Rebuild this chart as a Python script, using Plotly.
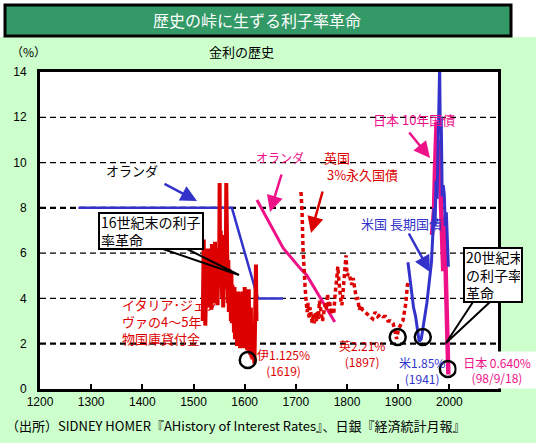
import plotly.graph_objects as go

# ---- data ----
x_ticks = [1200, 1300, 1400, 1500, 1600, 1700, 1800, 1900, 2000]
y_ticks = [0, 2, 4, 6, 8, 10, 12, 14]
grid_levels = [2, 4, 6, 8, 10, 12]

# Netherlands (blue, early)
dutch_years = [1275, 1575, 1620, 1626, 1675]
dutch_rates = [8.0, 8.0, 4.45, 4.0, 4.0]

# Italy / Genoa 4-5 year loans (yearly, 1518-1623)
italy_years = list(range(1518, 1624))
italy_rates = [3.0, 4.5, 6.6, 3.0, 5.2, 2.8, 4.6, 3.6, 5.8, 3.9,
               6.2, 4.0, 5.5, 3.6, 6.0, 4.2, 5.2, 3.5, 6.4, 4.4,
               5.0, 3.8, 6.0, 4.1, 6.5, 3.9, 5.6, 4.4, 6.2, 3.7,
               5.3, 4.6, 4.6, 9.1, 5.0, 7.0, 4.3, 6.3, 4.0, 5.8,
               3.6, 6.0, 4.4, 6.8, 4.6, 4.8, 9.1, 4.2, 6.6, 3.8,
               5.7, 3.4, 5.3, 3.9, 4.9, 3.0, 5.2, 2.9, 4.6, 3.3,
               4.2, 2.5, 4.5, 2.2, 3.8, 2.6, 4.1, 1.9, 3.5, 2.4,
               4.3, 2.0, 3.6, 1.8, 3.9, 2.5, 3.2, 1.9, 4.3, 2.3,
               3.7, 1.8, 4.5, 2.6, 3.8, 2.0, 3.4, 1.7, 3.0, 2.2,
               4.4, 1.6, 2.8, 1.5, 3.6, 1.4, 2.5, 1.3, 2.0, 1.4,
               1.6, 1.125, 2.5, 4.0, 5.5, 3.0]

# Netherlands (pink)
holland_years = [1624, 1675, 1708, 1721, 1776]
holland_rates = [8.35, 6.23, 5.34, 5.04, 2.96]

# UK 3% consols
uk_years = [1710, 1712, 1714, 1716, 1718, 1720, 1722, 1724, 1726, 1728, 1730, 1732,
            1734, 1736, 1738, 1740, 1742, 1744, 1746, 1748, 1750, 1752, 1754, 1756,
            1758, 1760, 1762, 1764, 1766, 1768, 1770, 1772, 1774, 1776, 1778, 1780,
            1782, 1784, 1786, 1788, 1790, 1792, 1794, 1796, 1798, 1800, 1803, 1806,
            1809, 1812, 1815, 1818, 1821, 1824, 1827, 1830, 1835, 1840, 1845, 1850,
            1855, 1860, 1865, 1870, 1875, 1880, 1885, 1890, 1893, 1897, 1900, 1903,
            1906, 1909, 1912, 1915, 1918, 1920]
uk_rates = [8.7, 7.9, 6.2, 5.0, 4.5, 3.9, 3.4, 3.8, 3.1, 3.6, 3.0, 2.9,
            3.3, 2.9, 3.4, 3.0, 3.4, 3.1, 3.9, 3.5, 3.2, 3.0, 3.3, 3.6,
            3.8, 3.5, 4.2, 3.6, 3.9, 3.3, 3.6, 3.4, 3.3, 4.0, 4.6, 5.0,
            5.4, 4.8, 4.1, 3.9, 3.7, 4.4, 4.6, 5.6, 5.9, 5.0, 5.1, 4.9,
            4.6, 4.9, 4.5, 4.0, 4.0, 3.5, 3.7, 3.5, 3.4, 3.3, 3.2, 3.1,
            3.4, 3.2, 3.3, 3.2, 3.2, 3.0, 3.0, 2.9, 2.6, 2.21, 2.6, 2.8,
            2.9, 3.0, 3.4, 3.8, 4.6, 4.7]

# US long-term bonds
us_years = [1919, 1922, 1926, 1930, 1934, 1938, 1941, 1945, 1948, 1952, 1956, 1959,
            1962, 1965, 1968, 1970, 1972, 1974, 1976, 1978, 1980, 1981, 1982, 1984,
            1986, 1988, 1990, 1992, 1994, 1996, 1998]
us_rates = [5.6, 5.0, 4.2, 3.6, 3.2, 2.6, 2.1, 2.2, 2.6, 3.1, 3.8, 4.4,
            5.0, 5.6, 7.0, 8.0, 7.2, 9.2, 8.4, 10.5, 12.5, 14.3, 11.8, 12.0,
            8.5, 9.0, 8.6, 7.2, 7.8, 6.4, 5.4]

# Japan 10-year bonds
japan_years = [1966, 1968, 1970, 1972, 1974, 1975, 1977, 1979, 1980, 1982, 1984, 1986,
               1988, 1990, 1991, 1993, 1995, 1996, 1997, 1998]
japan_rates = [6.8, 7.4, 7.9, 9.8, 11.0, 11.8, 9.0, 10.5, 11.0, 9.2, 8.0, 6.2,
               5.2, 7.6, 6.8, 4.8, 3.4, 3.0, 2.0, 0.64]

# circled lows
low_years = [1606, 1899, 1948, 1997]
low_rates = [1.28, 2.3, 2.3, 0.88]

# ---- colours / fonts ----
RED = '#DD0000'
BLUE = '#3333CC'
PINK = '#EE1188'
JP = 'Noto Sans CJK JP'
NUM = 'Liberation Sans'

# plot area in pixels, used to place the decorations
L, R, T, B = 40, 498, 72, 389
X_RANGE = [1200, 2095]


def yr(px):
    return X_RANGE[0] + (px - L) * (X_RANGE[1] - X_RANGE[0]) / (R - L)


def val(py):
    return (B - py) * 14 / (B - T)


def pxp(px):
    return (px - L) / (R - L)


def pyp(py):
    return (B - py) / (B - T)


fig = go.Figure()

# label that sits behind the Italian data
fig.add_trace(go.Scatter(
    x=[yr(122)], y=[val(324)], mode='text',
    text=['イタリア･ジェノ<br>ヴァの4～5年<br>物国庫貸付金'],
    textposition='middle right',
    textfont=dict(family=JP, size=13, color=RED), hoverinfo='skip'))

fig.add_trace(go.Scatter(x=dutch_years, y=dutch_rates, mode='lines',
                         line=dict(color=BLUE, width=2.5)))
fig.add_trace(go.Scatter(x=italy_years, y=italy_rates, mode='lines',
                         line=dict(color=RED, width=4)))
fig.add_trace(go.Scatter(x=holland_years, y=holland_rates, mode='lines',
                         line=dict(color=PINK, width=3)))
fig.add_trace(go.Scatter(x=uk_years, y=uk_rates, mode='lines',
                         line=dict(color=RED, width=3.5, dash='4px,3px')))
fig.add_trace(go.Scatter(x=japan_years, y=japan_rates, mode='lines',
                         line=dict(color=PINK, width=4.5)))
fig.add_trace(go.Scatter(x=us_years, y=us_rates, mode='lines',
                         line=dict(color=BLUE, width=3)))
fig.add_trace(go.Scatter(x=low_years, y=low_rates, mode='markers',
                         marker=dict(symbol='circle-open', size=16, color='black',
                                     line=dict(width=2.5))))

shapes = [
    # white surround outside the green panel
    dict(type='rect', xref='paper', yref='paper', x0=pxp(0), x1=pxp(556),
         y0=pyp(0), y1=pyp(37), fillcolor='white', line_width=0, layer='below'),
    dict(type='rect', xref='paper', yref='paper', x0=pxp(536), x1=pxp(556),
         y0=pyp(0), y1=pyp(444), fillcolor='white', line_width=0, layer='below'),
    # title bar
    dict(type='rect', xref='paper', yref='paper', x0=pxp(5), x1=pxp(511),
         y0=pyp(5), y1=pyp(36), fillcolor='#339966',
         line=dict(color='black', width=3)),
    # callout pointers
    dict(type='path', xref='x', yref='y',
         path=f'M {yr(160)},{val(248)} L {yr(239)},{val(275)} L {yr(185)},{val(248)}',
         line=dict(color='black', width=2)),
    dict(type='path', xref='x', yref='y',
         path=f'M {yr(473)},{val(302)} L {yr(446)},{val(343)} L {yr(490)},{val(302)}',
         line=dict(color='black', width=2)),
]
for g in grid_levels:
    shapes.append(dict(type='line', xref='paper', yref='y', x0=0, x1=1, y0=g, y1=g,
                       layer='below',
                       line=dict(color='black', width=2.2 if g in (2, 8) else 1.2,
                                 dash='6px,4px')))


def note(x, y, text, size, color, xanchor='center', **kw):
    return dict(x=x, y=y, text=text, showarrow=False, xanchor=xanchor,
                yanchor=kw.pop('yanchor', 'middle'),
                font=dict(family=JP, size=size, color=color), **kw)


annotations = [
    note(pxp(257), pyp(20), '歴史の峠に生ずる利子率革命', 16, 'white',
         xref='paper', yref='paper'),
    note(pxp(241), pyp(52), '金利の歴史', 13, 'black', xref='paper', yref='paper'),
    note(pxp(28), pyp(52), '（%）', 12, 'black', xref='paper', yref='paper'),
    note(pxp(4), pyp(425),
         '（出所）SIDNEY HOMER『AHistory of Interest Rates』、日銀『経済統計月報』',
         13, 'black', xanchor='left', xref='paper', yref='paper'),
    note(yr(132), val(170), 'オランダ', 13, 'black'),
    note(yr(98), val(212), '16世紀末の利子<br>率革命', 14, 'black', xanchor='left',
         yanchor='top', align='left', width=100, height=32, bgcolor='white',
         bordercolor='black', borderwidth=2, borderpad=1),
    note(yr(463), val(247), '20世紀末<br>の利子率<br>革命', 14, 'black', xanchor='left',
         yanchor='top', align='left', width=54, height=50, bgcolor='white',
         bordercolor='black', borderwidth=2, borderpad=1),
    note(yr(280), val(157), 'オランダ', 12, PINK),
    note(yr(322), val(166), '英国<br> 3%永久国債', 13, RED, xanchor='left', align='left'),
    note(yr(359), val(223), '米国 長期国債', 13, BLUE, xanchor='left'),
    note(yr(371), val(119), '日本 10年国債', 13, PINK, xanchor='left'),
    note(yr(283), val(362), '伊1.125%<br>(1619)', 12, RED),
    note(yr(362), val(353), '英2.21%<br>(1897)', 12, RED),
    note(yr(422), val(370), '米1.85%<br>(1941)', 12, BLUE),
    note(yr(497), val(370), '日本 0.640%<br>(98/9/18)', 12, PINK,
         width=78, height=34, bgcolor='white'),
]

# arrows: (tail px, head px, colour)
arrows = [((163, 183), (197, 201), BLUE),
          ((282, 173), (270, 212), PINK),
          ((323, 190), (311, 233), RED),
          ((408, 232), (430, 272), BLUE),
          ((408, 131), (430, 158), PINK)]
for (tx, ty), (hx, hy), c in arrows:
    annotations.append(dict(x=yr(hx), y=val(hy), ax=yr(tx), ay=val(ty),
                            axref='x', ayref='y', text='', showarrow=True,
                            arrowhead=2, arrowsize=1.3, arrowwidth=2.5, arrowcolor=c))

fig.update_layout(
    width=555, height=443,
    margin=dict(l=L, r=555 - R, t=T, b=443 - B, pad=0),
    paper_bgcolor='#CCFFCC', plot_bgcolor='white',
    showlegend=False,
    shapes=shapes, annotations=annotations,
    xaxis=dict(range=X_RANGE, tickvals=x_ticks, ticks='inside', ticklen=5,
               tickwidth=2, tickcolor='black', showgrid=False, zeroline=False,
               showline=True, linewidth=3, linecolor='black', mirror=True,
               tickfont=dict(family=NUM, size=12, color='black')),
    yaxis=dict(range=[0, 14], tickvals=y_ticks, ticks='', showgrid=False,
               zeroline=False, showline=True, linewidth=3, linecolor='black',
               mirror=True, ticklabelstandoff=8,
               tickfont=dict(family=NUM, size=12, color='black')),
)

fig.write_html("out.html", config={'displayModeBar': False},
               post_script="document.body.style.margin='0';")
